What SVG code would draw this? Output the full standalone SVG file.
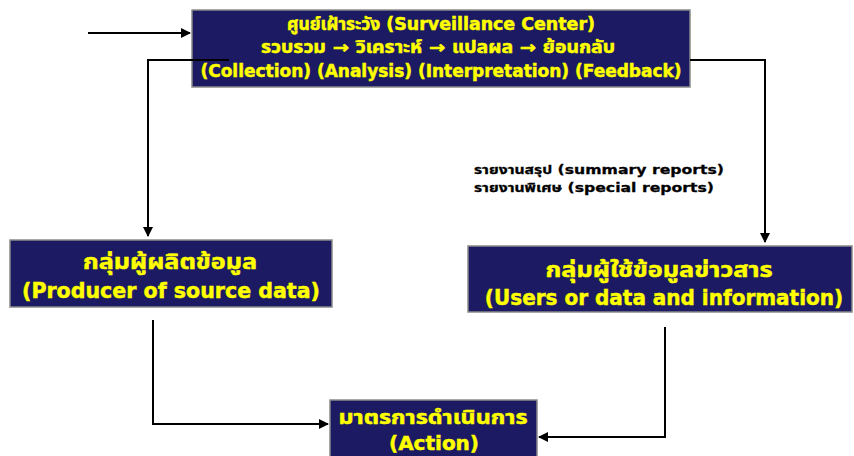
<svg xmlns="http://www.w3.org/2000/svg" width="854" height="456" viewBox="0 0 854 456">
  <style>
    .box { fill: #1b1a62; stroke: #8a8a8a; stroke-width: 1.5; }
    .t { font-family: Tahoma, "DejaVu Sans", "Noto Sans", "Noto Sans Thai", sans-serif; font-weight: bold; fill: #ffff00; stroke: #ffff00; stroke-width: 0.5; text-anchor: middle; }
    .lbl { font-family: Tahoma, "DejaVu Sans", "Noto Sans", "Noto Sans Thai", sans-serif; font-weight: bold; fill: #000; stroke: #000; stroke-width: 0.3; font-size: 13px; }
    .edge { fill: none; stroke: #000; stroke-width: 2; }
  </style>
  <defs>
    <marker id="arr" viewBox="0 0 10 10" refX="9" refY="5" markerWidth="5" markerHeight="5" orient="auto" markerUnits="strokeWidth">
      <path d="M0,0 L10,5 L0,10 z" fill="#000"/>
    </marker>
  </defs>
  <rect width="854" height="456" fill="#fff"/>

  <g id="center">
    <rect class="box" x="192" y="10" width="498" height="77"/>
    <text class="t" x="441" y="30" font-size="17" textLength="308" lengthAdjust="spacingAndGlyphs">ศูนย์เฝ้าระวัง (Surveillance Center)</text>
    <text class="t" x="438" y="53" font-size="17" textLength="354" lengthAdjust="spacingAndGlyphs">รวบรวม → วิเคราะห์ → แปลผล → ย้อนกลับ</text>
    <text class="t" x="441" y="77" font-size="17" textLength="481" lengthAdjust="spacingAndGlyphs">(Collection) (Analysis) (Interpretation) (Feedback)</text>
  </g>

  <g id="producer">
    <rect class="box" x="10" y="240" width="322" height="67"/>
    <text class="t" x="170" y="269" font-size="22" textLength="174" lengthAdjust="spacingAndGlyphs">กลุ่มผู้ผลิตข้อมูล</text>
    <text class="t" x="171" y="298" font-size="22" textLength="298" lengthAdjust="spacingAndGlyphs">(Producer of source data)</text>
  </g>

  <g id="users">
    <rect class="box" x="468" y="246" width="384" height="66"/>
    <text class="t" x="659" y="277" font-size="22" textLength="227" lengthAdjust="spacingAndGlyphs">กลุ่มผู้ใช้ข้อมูลข่าวสาร</text>
    <text class="t" transform="translate(664,305) scale(0.82,1)" x="0" y="0" font-size="22" textLength="437" lengthAdjust="spacingAndGlyphs">(Users or data and information)</text>
  </g>

  <g id="action">
    <rect class="box" x="330" y="400" width="207" height="62"/>
    <text class="t" x="433" y="424" font-size="20" textLength="189" lengthAdjust="spacingAndGlyphs">มาตรการดำเนินการ</text>
    <text class="t" x="434" y="450" font-size="20" textLength="90" lengthAdjust="spacingAndGlyphs">(Action)</text>
  </g>

  <g id="connectors">
    <path class="edge" d="M88,33 H190" marker-end="url(#arr)"/>
    <path class="edge" d="M229,60 H148 V236" marker-end="url(#arr)"/>
    <path class="edge" d="M690,60 H765 V242" marker-end="url(#arr)"/>
    <path class="edge" d="M153,320 V424 H328" marker-end="url(#arr)"/>
    <path class="edge" d="M665,327 V437 H539" marker-end="url(#arr)"/>
    <text class="lbl" x="474" y="174" textLength="250" lengthAdjust="spacingAndGlyphs">รายงานสรุป (summary reports)</text>
    <text class="lbl" x="474" y="192" textLength="240" lengthAdjust="spacingAndGlyphs">รายงานพิเศษ (special reports)</text>
  </g>
</svg>
